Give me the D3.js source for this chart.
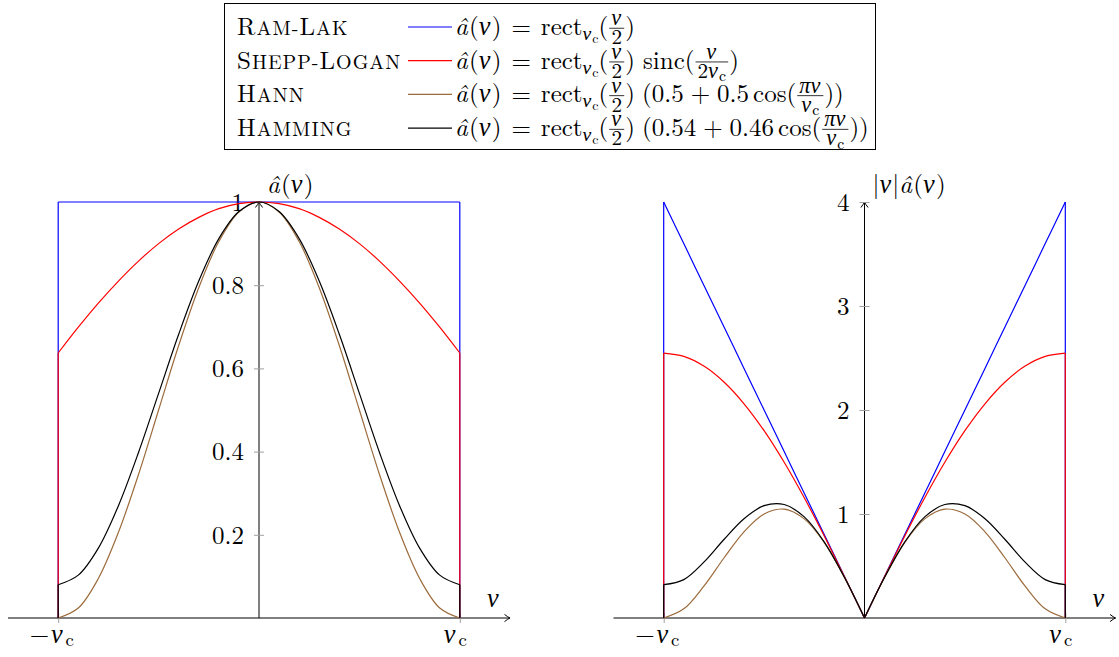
<!DOCTYPE html>
<html><head><meta charset="utf-8">
<script src="https://cdn.jsdelivr.net/npm/d3@7"></script>
<style>
body{margin:0;background:#fff}
svg{display:block}
</style>
</head><body>
<svg id="c" width="1119" height="657"></svg>
<script>
// ---- data (ν in units of ν_c) ----
const nu = [-1,-0.9,-0.8,-0.7,-0.6,-0.5,-0.4,-0.3,-0.2,-0.1,0,0.1,0.2,0.3,0.4,0.5,0.6,0.7,0.8,0.9,1];
const ramLak     = [1,1,1,1,1,1,1,1,1,1,1,1,1,1,1,1,1,1,1,1,1];
const sheppLogan = [0.637,0.699,0.757,0.810,0.858,0.900,0.935,0.963,0.984,0.996,1,0.996,0.984,0.963,0.935,0.900,0.858,0.810,0.757,0.699,0.637];
const hann       = [0,0.024,0.095,0.206,0.345,0.5,0.655,0.794,0.905,0.976,1,0.976,0.905,0.794,0.655,0.5,0.345,0.206,0.095,0.024,0];
const hamming    = [0.08,0.103,0.168,0.270,0.398,0.54,0.682,0.810,0.912,0.977,1,0.977,0.912,0.810,0.682,0.54,0.398,0.270,0.168,0.103,0.08];
const rampRamLak  = [4,3.6,3.2,2.8,2.4,2.0,1.6,1.2,0.8,0.4,0,0.4,0.8,1.2,1.6,2.0,2.4,2.8,3.2,3.6,4];
const rampShepp   = [2.546,2.515,2.422,2.269,2.060,1.801,1.497,1.156,0.787,0.398,0,0.398,0.787,1.156,1.497,1.801,2.060,2.269,2.422,2.515,2.546];
const rampHann    = [0,0.088,0.306,0.577,0.829,1.000,1.047,0.953,0.724,0.390,0,0.390,0.724,0.953,1.047,1.000,0.829,0.577,0.306,0.088,0];
const rampHamming = [0.320,0.369,0.537,0.755,0.955,1.080,1.091,0.972,0.730,0.391,0,0.391,0.730,0.972,1.091,1.080,0.955,0.755,0.537,0.369,0.320];
const leftTicks = [0.2,0.4,0.6,0.8,1];
const rightTicks = [1,2,3,4];
const xTicks = [-1,1];
const names = ["Ram-Lak","Shepp-Logan","Hann","Hamming"];
const colors = ["#0000ff","#ff0000","#9c6b3c","#000000"];

const svg = d3.select("#c");
const FS = 25;
const FONT = "'Latin Modern Roman', 'Liberation Serif', serif";
const GREEK = "'Liberation Serif', serif";

// ---- tiny math typesetter ----
const it = s => ({s, i:true});
const gr = s => ({s, i:true, g:true});
const rm = s => ({s});
const sp = n => ({sp:n});
function layout(g, x0, base, items, fs) {
  let x = x0;
  for (const p of items) {
    if (p.sp !== undefined) { x += p.sp * fs / FS; continue; }
    if (p.frac) {
      const fz = fs * 0.85;
      const ng = g.append("g"), dg = g.append("g");
      const nw = layout(ng, 0, 0, p.frac[0], fz);
      const dw = layout(dg, 0, 0, p.frac[1], fz);
      const w = Math.max(nw, dw) + 6 * fs / FS;
      const ax = base - 0.27 * fs;
      ng.attr("transform", `translate(${x + (w - nw) / 2},${ax - 0.12 * fs})`);
      dg.attr("transform", `translate(${x + (w - dw) / 2},${ax + 0.64 * fs})`);
      g.append("line").attr("x1", x + 1).attr("x2", x + w - 1)
        .attr("y1", ax).attr("y2", ax).attr("stroke", "#000").attr("stroke-width", 0.8);
      x += w; continue;
    }
    if (p.sub) {
      const sg = g.append("g");
      const w = layout(sg, 0, 0, p.sub, fs * (p.f || 0.72));
      sg.attr("transform", `translate(${x},${base + (p.d || 0.2) * fs})`);
      x += w; continue;
    }
    const t = g.append("text").attr("x", x).attr("y", base).attr("font-family", p.g ? GREEK : FONT)
      .attr("font-size", p.g ? fs * 1.05 : fs).attr("font-style", p.i ? "italic" : "normal").attr("fill", "#000").text(p.s);
    x += t.node().getComputedTextLength() + (p.i ? 0.05 * fs : 0);
  }
  return x - x0;
}
const nucSmall = [gr("ν"), {sub:[rm("c")], f:0.75, d:0.15}];

function smallCaps(g, x, base, word, fs) {
  const t = g.append("text").attr("x", x).attr("y", base).attr("font-family", FONT)
    .attr("font-size", fs).attr("letter-spacing", 1).attr("fill", "#000");
  word.split("").forEach((ch, i) => {
    const isFirst = i === 0 || word[i - 1] === "-";
    t.append("tspan").attr("font-size", isFirst ? fs : fs * 0.8).text(ch.toUpperCase());
  });
}

// ---- legend ----
const leg = svg.append("g");
leg.append("rect").attr("x", 224.5).attr("y", 3.5).attr("width", 651).attr("height", 146)
  .attr("fill", "none").attr("stroke", "#000").attr("stroke-width", 1);
const prefix = [it("â"), rm("("), gr("ν"), rm(")"), sp(10), rm("="), sp(10), rm("rect"),
  {sub: nucSmall, f:0.75}, rm("("), {frac:[[gr("ν")],[rm("2")]]}, rm(")")];
const formulas = [
  prefix,
  prefix.concat([sp(8), rm("sinc("), {frac:[[gr("ν")],[rm("2"), ...nucSmall]]}, rm(")")]),
  prefix.concat([sp(7), rm("(0.5"), sp(7), rm("+"), sp(7), rm("0.5"), sp(4), rm("cos("), {frac:[[gr("πν")],nucSmall]}, rm("))")]),
  prefix.concat([sp(7), rm("(0.54"), sp(7), rm("+"), sp(7), rm("0.46"), sp(4), rm("cos("), {frac:[[gr("πν")],nucSmall]}, rm("))")])
];
names.forEach((n, i) => {
  const base = 35 + i * 33.7;
  smallCaps(leg, 237, base, n, FS);
  leg.append("line").attr("x1", 408).attr("x2", 452).attr("y1", base - 8).attr("y2", base - 8)
    .attr("stroke", colors[i]).attr("stroke-width", 1.2);
  layout(leg.append("g"), 455, base, formulas[i], FS);
});

// ---- panels ----
function arrow(g, x, y, angle) {
  g.append("path").attr("d", "M-5.5,-3.6 Q-2,-0.8 0,0 Q-2,0.8 -5.5,3.6")
    .attr("transform", `translate(${x},${y}) rotate(${angle})`)
    .attr("fill", "none").attr("stroke", "#000").attr("stroke-width", 1);
}

function panel(cx, yMax, yTicks, series, yLabel) {
  const x = d3.scaleLinear().domain([-1.25, 1.25]).range([cx - 251, cx + 251]);
  const y = d3.scaleLinear().domain([0, yMax]).range([618, 202]);
  const g = svg.append("g");
  const line = d3.line().x(d => x(d[0])).y(d => y(d[1])).curve(d3.curveCatmullRom.alpha(0.5));
  const lin = d3.line().x(d => x(d[0])).y(d => y(d[1]));

  g.append("line").attr("x1", x(-1.25)).attr("x2", x(1.25)).attr("y1", y(0)).attr("y2", y(0))
    .attr("stroke", "#000").attr("stroke-width", 1);
  arrow(g, x(1.25), y(0), 0);
  g.append("line").attr("x1", x(0)).attr("x2", x(0)).attr("y1", y(0)).attr("y2", y(yMax))
    .attr("stroke", "#000").attr("stroke-width", 1);
  arrow(g, x(0), y(yMax), -90);

  const ya = g.append("g").attr("transform", `translate(${x(0)},0)`)
    .call(d3.axisLeft(y).tickValues(yTicks).tickSize(0).tickPadding(15).tickFormat(d => String(d)));
  ya.select(".domain").remove();
  ya.attr("font-family", FONT).attr("font-size", FS);
  ya.selectAll(".tick text").attr("font-family", FONT).attr("font-size", FS).attr("dy", "0.33em").attr("fill", "#000");
  ya.selectAll(".tick").append("line").attr("x1", -5).attr("x2", 5).attr("stroke", "#a0a0a0").attr("stroke-width", 1);

  const xa = g.append("g").attr("transform", `translate(0,${y(0)})`)
    .call(d3.axisBottom(x).tickValues(xTicks).tickSize(0).tickFormat(""));
  xa.select(".domain").remove();
  xa.selectAll(".tick").append("line").attr("y1", -5).attr("y2", 5).attr("stroke", "#a0a0a0").attr("stroke-width", 1);
  xa.selectAll(".tick").each(function(d) {
    const tg = d3.select(this).append("g");
    const items = (d < 0 ? [rm("−"), sp(-2)] : []).concat([gr("ν"), {sub:[rm("c")], f:0.75, d:0.12}]);
    const w = layout(tg, 0, 25, items, FS);
    tg.attr("transform", `translate(${-w / 2},0)`);
  });
  layout(g.append("g"), x(1.25) - 23, y(0) - 11, [gr("ν")], FS);
  layout(g.append("g"), x(0) + 8, 193, yLabel, FS);

  series.forEach(s => {
    const pts = nu.map((v, i) => [v, s.v[i]]);
    const n = pts.length;
    const p = g.append("g").attr("fill", "none").attr("stroke", s.c).attr("stroke-width", 1.2);
    p.append("path").attr("d", lin([[nu[0], 0], pts[0]]));
    if (s.split) {
      const mid = nu.indexOf(0);
      p.append("path").attr("d", line(pts.slice(0, mid + 1)));
      p.append("path").attr("d", line(pts.slice(mid)));
    } else {
      p.append("path").attr("d", line(pts));
    }
    p.append("path").attr("d", lin([pts[n - 1], [nu[n - 1], 0]]));
  });
}

panel(259, 1, leftTicks,
  [{v: ramLak, c: colors[0]}, {v: sheppLogan, c: colors[1]}, {v: hann, c: colors[2]}, {v: hamming, c: colors[3]}],
  [it("â"), rm("("), gr("ν"), rm(")")]);
panel(864.5, 4, rightTicks,
  [{v: rampRamLak, c: colors[0], split: true}, {v: rampShepp, c: colors[1], split: true},
   {v: rampHann, c: colors[2], split: true}, {v: rampHamming, c: colors[3], split: true}],
  [rm("|"), gr("ν"), rm("|"), it("â"), rm("("), gr("ν"), rm(")")]);
</script>
</body></html>
